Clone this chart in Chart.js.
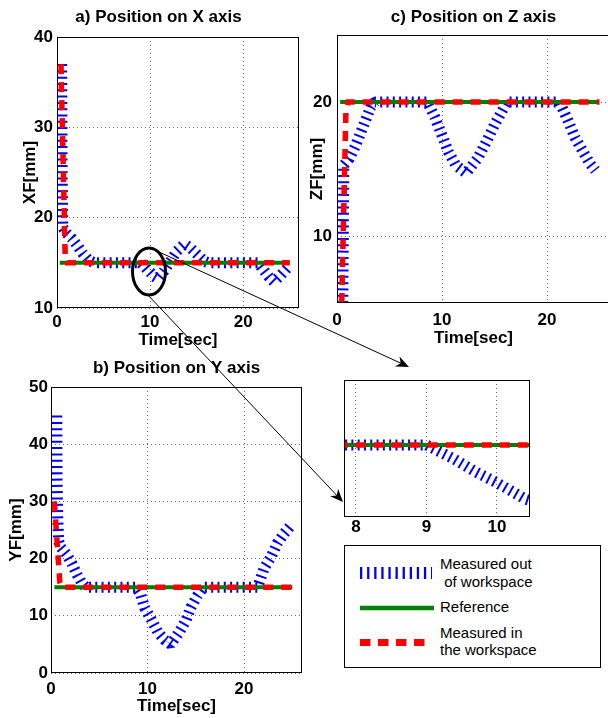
<!DOCTYPE html>
<html>
<head>
<meta charset="utf-8">
<script src="https://cdn.jsdelivr.net/npm/chart.js@4.4.1/dist/chart.umd.min.js"></script>
<style>
  body { margin: 0; width: 608px; height: 718px; overflow: hidden; background: #fff; position: relative;
         font-family: "Liberation Sans", Arial, sans-serif; }
  canvas { position: absolute; }
  #legend { position: absolute; left: 344px; top: 545px; width: 257px; height: 123px; box-sizing: border-box;
            border: 1px solid #000; background: #fff; z-index: 3; }
  #legend svg { position: absolute; left: 0; top: 0; }
  #legend .txt { position: absolute; font-size: 15px; line-height: 18px; color: #000; white-space: pre; }
</style>
</head>
<body>
<canvas id="chart-x" width="285" height="352" style="left:18px;top:0"></canvas>
<canvas id="chart-z" width="320" height="352" style="left:298px;top:0"></canvas>
<canvas id="chart-y" width="310" height="368" style="left:0;top:350px"></canvas>
<canvas id="chart-zoom" width="196" height="166" style="left:340px;top:376px"></canvas>
<canvas id="marks" width="608" height="718" style="left:0;top:0;z-index:2"></canvas>

<div id="legend">
  <svg width="255" height="121">
    <line x1="15" y1="27" x2="87" y2="27" stroke="#0000ff" stroke-width="12" stroke-dasharray="2.3 4.8"/>
    <line x1="15" y1="62" x2="89" y2="62" stroke="#008000" stroke-width="4.5"/>
    <line x1="15" y1="96.5" x2="81" y2="96.5" stroke="#ff0000" stroke-width="7" stroke-dasharray="10.5 7.5"/>
  </svg>
  <div class="txt" style="left:95px;top:9px">Measured out</div>
  <div class="txt" style="left:95px;top:27px"> of workspace</div>
  <div class="txt" style="left:95px;top:52px">Reference</div>
  <div class="txt" style="left:95px;top:78px">Measured in</div>
  <div class="txt" style="left:95px;top:95px">the workspace</div>
</div>

<script>
// time axis (sec), shared by the three panels
const timeMin = 0;
const timeMax = 26;
const timeTicks = [0, 10, 20];

// a) position on X axis
const ticksX = [10, 20, 30, 40];
const refTX = [0.3, 25];
const refX = [15, 15];
const inTX = [0.43, 0.88, 1.1, 25];
const inX = [37, 15.8, 15, 15];
const outTX = [0.5, 0.55, 0.62, 1.0, 1.6, 2.2, 2.8, 3.4, 4.0, 9.0, 9.4, 9.7, 10.0, 10.4, 10.8,
               11.5, 12.2, 12.9, 13.7, 14.4, 15.1, 15.8, 16.3, 21.6, 22.2, 22.8, 23.3, 24.0, 24.8];
const outX = [37, 25, 18.9, 18.3, 17.7, 16.9, 16.0, 15.3, 15, 15, 14.6, 14.25, 13.95, 13.5, 13.25,
              14.1, 15.2, 16.3, 17.1, 16.6, 15.9, 15.2, 15, 15, 14.2, 13.4, 12.9, 13.6, 14.5];

// c) position on Z axis
const ticksZ = [10, 20];
const refTZ = [0.3, 24.9];
const refZ = [20, 20];
const inTZ = [0.45, 0.85, 1.05, 25];
const inZ = [5, 19.3, 20, 20];
const outTZ = [0.55, 0.6, 0.65, 1.2, 1.8, 2.3, 2.8, 3.2, 3.6, 8.6, 9.3, 10.0, 10.6, 11.3, 12.3,
               13.4, 14.2, 15.0, 15.7, 16.2, 21.2, 22.0, 22.7, 23.5, 24.1, 24.6];
const outZ = [5, 10, 15.3, 15.8, 16.8, 17.8, 18.8, 19.6, 20, 20, 18.9, 17.5, 16.3, 15.3, 14.7,
              15.8, 17.0, 18.3, 19.3, 20, 20, 18.6, 17.3, 16.2, 15.4, 14.9];

// b) position on Y axis
const ticksY = [0, 10, 20, 30, 40, 50];
const refTY = [0.35, 25];
const refY = [15, 15];
const inTY = [0.35, 0.92, 1.1, 25];
const inY = [30, 15.8, 15, 15];
const outTY = [0.6, 0.62, 0.7, 0.8, 1.0, 1.6, 2.2, 2.7, 3.2, 3.6, 8.8, 9.3, 9.7, 10.4, 11.05, 11.75, 12.4,
               13.3, 14.0, 14.5, 15.2, 15.8, 21.4, 22.1, 22.8, 23.45, 24.15, 24.8];
const outY = [45, 35, 27, 23, 22, 20.8, 19.0, 17.2, 15.7, 15, 15, 13.7, 11.4, 9.3, 7.2, 5.8, 5.0,
              7.2, 9.3, 11.5, 13.6, 15, 15, 18.4, 20.3, 22.7, 24.4, 25.7];

// zoomed view of panel a around t = 9 s
const zoomT = [7.83, 10.47];
const zoomTicks = [8, 9, 10];
const zoomX = [13, 16.8];

Chart.defaults.font.family = '"Liberation Sans", Arial, sans-serif';
Chart.defaults.color = '#000';

const bold = { size: 17, weight: 'bold', lineHeight: 1 };

function pts(ts, vs) {
  return ts.map((t, i) => ({ x: t, y: vs[i] }));
}

function fixedTicks(values) {
  return (s) => { s.ticks = values.map((v) => ({ value: v })); };
}

// axes box drawn round the plot area
const frame = {
  id: 'frame',
  afterDatasetsDraw(chart) {
    const a = chart.chartArea;
    const ctx = chart.ctx;
    ctx.save();
    ctx.strokeStyle = '#000';
    ctx.lineWidth = 1;
    ctx.strokeRect(Math.round(a.left) + 0.5, Math.round(a.top) + 0.5,
                   Math.round(a.width) - 1, Math.round(a.height) - 1);
    ctx.restore();
  }
};

function series(o, clip) {
  return [
    { label: 'Measured in the workspace', data: pts(o.inT, o.inV), borderColor: '#ff0000',
      borderWidth: 5.5, borderDash: [10, 8], borderCapStyle: 'butt', clip: clip },
    { label: 'Reference', data: pts(o.refT, o.refV), borderColor: '#008000', borderWidth: 4, clip: clip },
    { label: 'Measured out of workspace', data: pts(o.outT, o.outV), borderColor: '#0000ff',
      borderWidth: 11, borderDash: [2, 4.3], borderCapStyle: 'butt', borderJoinStyle: 'bevel', clip: clip },
  ];
}

const gridStyle = { color: 'rgba(0,0,0,0.6)', lineWidth: 1, drawTicks: false };

function panel(id, o) {
  return new Chart(document.getElementById(id), {
    type: 'line',
    data: { datasets: series(o) },
    options: {
      responsive: false,
      animation: false,
      events: [],
      devicePixelRatio: 1,
      layout: { padding: { left: 0, top: 0, right: o.padRight, bottom: 0 } },
      elements: { point: { radius: 0 }, line: { tension: 0 } },
      plugins: {
        legend: { display: false },
        tooltip: { enabled: false },
        title: { display: true, text: o.title, fullSize: o.fullSize, color: '#000', font: bold,
                 padding: { top: o.titleTop, bottom: o.titleBottom } },
      },
      scales: {
        x: {
          type: 'linear', min: timeMin, max: timeMax,
          afterBuildTicks: fixedTicks(timeTicks),
          afterFit: (s) => { s.height = o.xHeight; },
          ticks: { padding: o.xTickPad, font: bold, maxRotation: 0, autoSkip: false },
          grid: gridStyle,
          border: { display: false, dash: [1, 3] },
          title: { display: true, text: 'Time[sec]', font: bold, padding: { top: 0, bottom: o.xTitlePad } },
        },
        y: {
          type: 'linear', min: o.yMin, max: o.yMax,
          afterBuildTicks: fixedTicks(o.yTicks),
          afterFit: (s) => { s.width = o.yWidth; },
          ticks: { padding: o.yTickPad, font: bold, autoSkip: false },
          grid: gridStyle,
          border: { display: false, dash: [1, 3] },
          title: { display: true, text: o.yLabel, font: bold, padding: { top: o.yTitlePad, bottom: 0 } },
        },
      },
    },
    plugins: [frame],
  });
}

panel('chart-x', {
  title: 'a) Position on X axis', yLabel: 'XF[mm]', yMin: 10, yMax: 40, yTicks: ticksX,
  refT: refTX, refV: refX, inT: inTX, inV: inX, outT: outTX, outV: outX,
  fullSize: true, titleTop: 8.5, titleBottom: 11.5, padRight: 4,
  xHeight: 44, xTickPad: 5.5, xTitlePad: 3.5, yWidth: 39, yTickPad: 4, yTitlePad: 3.5,
});

panel('chart-z', {
  title: 'c) Position on Z axis', yLabel: 'ZF[mm]', yMin: 5, yMax: 25, yTicks: ticksZ,
  refT: refTZ, refV: refZ, inT: inTZ, inV: inZ, outT: outTZ, outV: outZ,
  fullSize: false, titleTop: 8.5, titleBottom: 9.5, padRight: 8,
  xHeight: 49, xTickPad: 8.5, xTitlePad: 5.5, yWidth: 39, yTickPad: 5, yTitlePad: 10.5,
});

panel('chart-y', {
  title: 'b) Position on Y axis', yLabel: 'YF[mm]', yMin: 0, yMax: 50, yTicks: ticksY,
  refT: refTY, refV: refY, inT: inTY, inV: inY, outT: outTY, outV: outY,
  fullSize: false, titleTop: 9.5, titleBottom: 10.5, padRight: 8,
  xHeight: 45, xTickPad: 7.5, xTitlePad: 3.5, yWidth: 51, yTickPad: 3, yTitlePad: 7.5,
});

// inset: same X data, zoomed
new Chart(document.getElementById('chart-zoom'), {
  type: 'line',
  data: { datasets: series({ refT: refTX, refV: refX, inT: inTX, inV: inX, outT: outTX, outV: outX }, 0) },
  options: {
    responsive: false,
    animation: false,
    events: [],
    devicePixelRatio: 1,
    layout: { padding: { left: 4, top: 4, right: 6, bottom: 0 } },
    elements: { point: { radius: 0 }, line: { tension: 0 } },
    plugins: { legend: { display: false }, tooltip: { enabled: false } },
    scales: {
      x: {
        type: 'linear', min: zoomT[0], max: zoomT[1],
        afterBuildTicks: fixedTicks(zoomTicks),
        afterFit: (s) => { s.height = 25; },
        ticks: { padding: 1.5, font: bold, maxRotation: 0, autoSkip: false },
        grid: gridStyle,
        border: { display: false, dash: [1, 3] },
      },
      y: { type: 'linear', min: zoomX[0], max: zoomX[1], display: false },
    },
  },
  plugins: [frame],
});

// ellipse and arrows pointing to the zoomed view
const mk = document.getElementById('marks').getContext('2d');
mk.strokeStyle = '#000';
mk.fillStyle = '#000';
mk.lineWidth = 3;
mk.beginPath();
mk.ellipse(149, 271.5, 16.5, 23.5, 0, 0, 2 * Math.PI);
mk.stroke();

function arrow(x1, y1, x2, y2) {
  const a = Math.atan2(y2 - y1, x2 - x1);
  const len = 13, half = 5.5;
  const bx = x2 - len * Math.cos(a), by = y2 - len * Math.sin(a);
  mk.lineWidth = 1;
  mk.beginPath();
  mk.moveTo(x1, y1);
  mk.lineTo(x2 - 6 * Math.cos(a), y2 - 6 * Math.sin(a));
  mk.stroke();
  mk.beginPath();
  mk.moveTo(x2, y2);
  mk.lineTo(bx + half * Math.sin(a), by - half * Math.cos(a));
  mk.lineTo(x2 - 0.7 * len * Math.cos(a), y2 - 0.7 * len * Math.sin(a));
  mk.lineTo(bx - half * Math.sin(a), by + half * Math.cos(a));
  mk.closePath();
  mk.fill();
}
arrow(157, 251, 409, 367);
arrow(147, 294, 343, 502);
</script>
</body>
</html>
